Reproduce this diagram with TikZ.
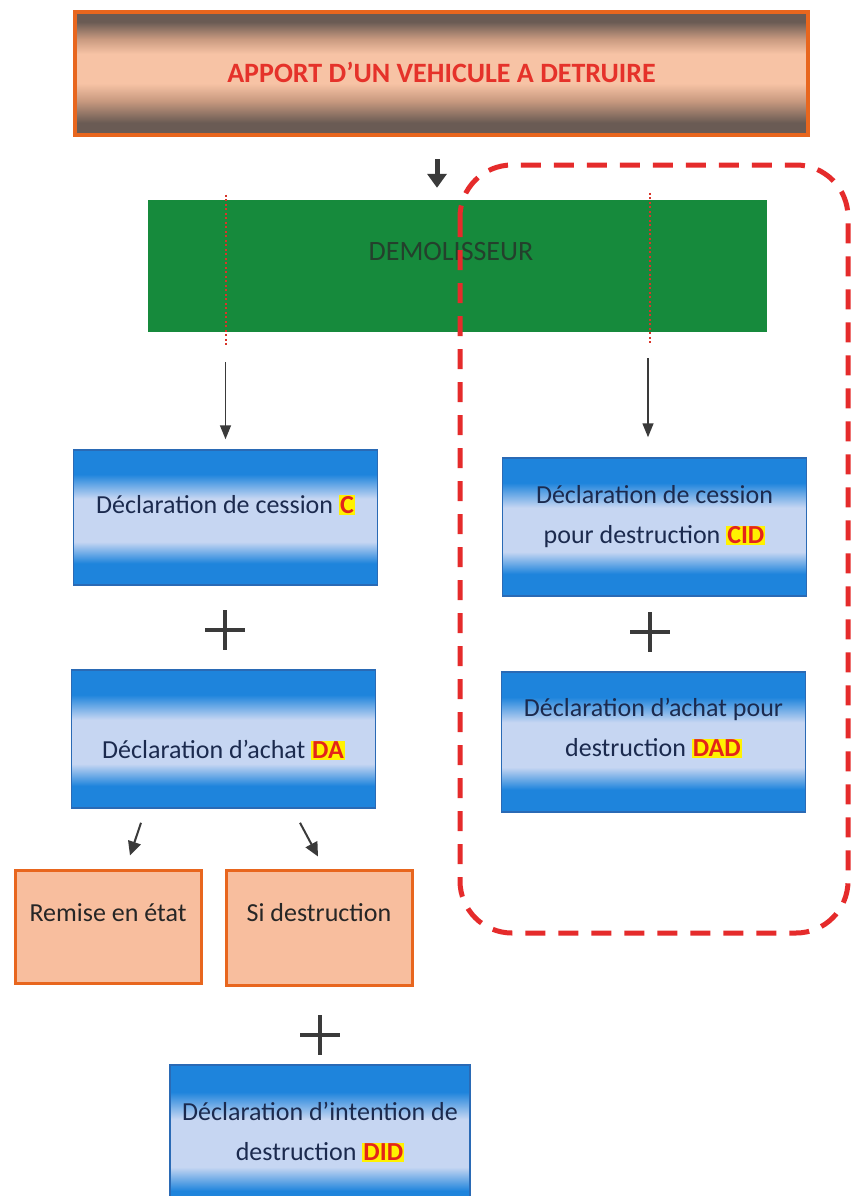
\documentclass[tikz,border=0pt]{standalone}
\usepackage{fontspec}
\setmainfont{Carlito}
\usetikzlibrary{arrows.meta}

\definecolor{bandark}{HTML}{6A5B54}
\definecolor{banmid}{HTML}{C99A80}
\definecolor{peach}{HTML}{F7C3A5}
\definecolor{banborder}{HTML}{E8661E}
\definecolor{bantext}{HTML}{E5322A}
\definecolor{demogreen}{HTML}{168A3C}
\definecolor{demotext}{HTML}{24402C}
\definecolor{bluedark}{HTML}{1E84DC}
\definecolor{bluemid}{HTML}{5FA6E8}
\definecolor{bluelight}{HTML}{C6D6F2}
\definecolor{blueborder}{HTML}{2A6AB5}
\definecolor{navytext}{HTML}{1B2A4E}
\definecolor{orangefill}{HTML}{F8BE9E}
\definecolor{orangeborder}{HTML}{E8661E}
\definecolor{dashred}{HTML}{E52B2B}
\definecolor{dotred}{HTML}{D8352A}
\definecolor{arrowgray}{HTML}{3A3A3A}
\definecolor{hlyellow}{HTML}{FFF200}
\definecolor{hlred}{HTML}{E3241B}

\pgfdeclareverticalshading{bandbanner}{100bp}{color(0bp)=(bandark); color(25bp)=(bandark); color(30bp)=(bandark); color(39bp)=(banmid); color(46bp)=(peach); color(58bp)=(peach); color(64bp)=(banmid); color(71bp)=(bandark); color(75bp)=(bandark); color(100bp)=(bandark)}
\pgfdeclareverticalshading{bandblue}{100bp}{color(0bp)=(bluedark); color(25bp)=(bluedark); color(33bp)=(bluedark); color(41bp)=(bluelight); color(57bp)=(bluelight); color(66bp)=(bluedark); color(75bp)=(bluedark); color(100bp)=(bluedark)}

\newcommand{\hlcode}[1]{{\setlength{\fboxsep}{1pt}\colorbox{hlyellow}{\textcolor{hlred}{\bfseries #1}}}}

\tikzset{
  banner/.style={draw=banborder, line width=4pt, shading=bandbanner, minimum width=733pt, minimum height=123pt, inner sep=0pt},
  bannertxt/.style={text=bantext, font=\bfseries\fontsize{28}{34}\selectfont},
  greenbox/.style={fill=demogreen, minimum width=619pt, minimum height=132pt, inner sep=0pt},
  greentxt/.style={text=demotext, font=\fontsize{28}{34}\selectfont},
  bluebox/.style={draw=blueborder, line width=1.5pt, shading=bandblue, minimum width=304pt, minimum height=137pt, inner sep=0pt},
  bluetxt/.style={text=navytext, align=center, font=\fontsize{26}{40}\selectfont},
  orangebox/.style={draw=orangeborder, fill=orangefill, line width=3pt, minimum width=186pt, minimum height=113pt, inner sep=0pt},
  orangetxt/.style={text=black!85, font=\fontsize{26}{32}\selectfont},
  bigarrow/.style={draw=arrowgray, line width=5pt, -{Triangle[width=19pt,length=14pt]}},
  thinarrow/.style={draw=arrowgray, line width=1.5pt, -{Triangle[width=11pt,length=14pt]}},
  smallarrow/.style={draw=arrowgray, line width=2pt, -{Triangle[width=13pt,length=14pt]}},
  reddot/.style={draw=dotred, line width=2pt, dash pattern=on 2pt off 2.5pt},
  reddash/.style={draw=dashred, line width=5pt, dash pattern=on 20pt off 13pt, rounded corners=52pt},
  plussign/.pic={\draw[arrowgray, line width=4.5pt] (-20,0) -- (20,0) (0,-20) -- (0,20);}
}

\begin{document}
\begin{tikzpicture}[x=1pt, y=-1pt]
\useasboundingbox[fill=white] (0,0) rectangle (852,1196);

% top banner
\node[banner] (apport) at (441.5,73.5) {};
\node[bannertxt] (apport-t) at (441.5,72) {APPORT D’UN VEHICULE A DETRUIRE};

% demolisseur
\node[greenbox] (demo) at (457.5,266) {};
\node[greentxt] (demo-t) at (451,252) {DEMOLISSEUR};

% left column
\node[bluebox, minimum height=135pt] (boxc) at (225.5,517.5) {};
\node[bluetxt] (boxc-t) at (225.5,505) {Déclaration de cession \hlcode{C}};
\pic at (225,630) {plussign};
\node[bluebox, minimum height=138pt] (boxda) at (223.5,739) {};
\node[bluetxt] (boxda-t) at (223.5,750) {Déclaration d’achat \hlcode{DA}};

% right column
\node[bluebox, minimum height=138pt] (boxcid) at (654.5,527) {};
\node[bluetxt] (boxcid-t) at (654.5,517) {Déclaration de cession\\pour destruction \hlcode{CID}};
\pic at (650,632) {plussign};
\node[bluebox, minimum height=140pt] (boxdad) at (653.5,742) {};
\node[bluetxt] (boxdad-t) at (653.5,728) {Déclaration d’achat pour\\destruction \hlcode{DAD}};

% orange boxes
\node[orangebox] (remise) at (108,926.5) {};
\node[orangetxt] (remise-t) at (108,913) {Remise en état};
\node[orangebox, minimum height=115pt] (si) at (319,927.5) {};
\node[orangetxt] (si-t) at (319,913) {Si destruction};

% bottom box
\pic at (320,1035) {plussign};
\node[bluebox, minimum width=300pt, minimum height=150pt] (boxdid) at (320,1140) {};
\node[bluetxt] (boxdid-t) at (320,1132) {Déclaration d’intention de\\destruction \hlcode{DID}};

% red dotted guide lines
\draw[reddot] ([yshift=5pt]demo.north -| boxc.north) -- ([yshift=-13pt]demo.south -| boxc.north);
\draw[reddot] ([xshift=-4.5pt,yshift=7pt]demo.north -| boxcid.north) -- ([xshift=-4.5pt,yshift=-11pt]demo.south -| boxcid.north);

% dashed red frame
\draw[reddash] (460,165) rectangle (848,933);

% arrows
\draw[bigarrow, shorten <=22pt, shorten >=12pt] ([xshift=-4.5pt]apport.south) -- ([xshift=-4.5pt]apport.south |- demo.north);
\draw[thinarrow, shorten <=30pt, shorten >=10pt] (demo.south -| boxc.north) -- (boxc.north);
\draw[thinarrow, shorten <=26pt, shorten >=20pt] ([xshift=-6.5pt]demo.south -| boxcid.north) -- ([xshift=-6.5pt]boxcid.north);
\draw[smallarrow] ([xshift=-82.5pt,yshift=-14pt]boxda.south) -- ([xshift=22pt,yshift=13pt]remise.north);
\draw[smallarrow] ([xshift=76.5pt,yshift=-14pt]boxda.south) -- ([xshift=-1pt,yshift=12pt]si.north);
\end{tikzpicture}
\end{document}
